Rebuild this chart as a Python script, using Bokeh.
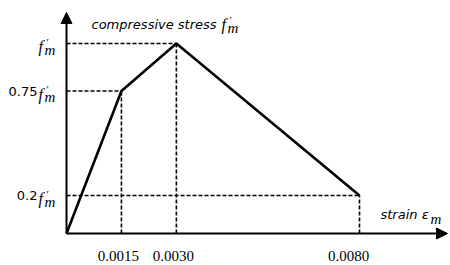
from bokeh.plotting import figure
from bokeh.models import Arrow, NormalHead, Range1d
from bokeh.core.properties import value
from bokeh.embed import file_html
from bokeh.resources import INLINE

# ---- data ----
strain = [0.0, 0.0015, 0.0030, 0.0080]          # strain eps_m
stress = [0.0, 0.75, 1.0, 0.2]                  # stress / f'm
strain_ticks = ["0.0015", "0.0030", "0.0080"]
strain_tick_vals = [0.0015, 0.0030, 0.0080]
stress_ticks = ["", "0.75", "0.2"]              # prefix for f'm labels
stress_tick_vals = [1.0, 0.75, 0.2]

# ---- layout helpers (canvas pixels -> data) ----
W, H = 450, 265
OX, OY = 66, 233          # canvas position of origin
SX, SY = 36625.0, 190.0   # px per data unit


def X(px):
    return (px - OX) / SX


def Y(py):
    return (OY - py) / SY


p = figure(width=W, height=H, output_backend="svg", toolbar_location=None,
           x_range=Range1d(X(0), X(W)), y_range=Range1d(Y(H), Y(0)),
           min_border=0, outline_line_color=None)
p.axis.visible = False
p.grid.visible = False
p.background_fill_color = "white"
p.border_fill_color = "white"

# dashed guide lines
n = len(strain)
p.segment(x0=[0.0] * (n - 1), y0=stress[1:], x1=strain[1:], y1=stress[1:],
          line_color="black", line_width=1.6, line_dash="4 2")
p.segment(x0=strain[1:], y0=[0.0] * (n - 1), x1=strain[1:], y1=stress[1:],
          line_color="black", line_width=1.6, line_dash="4 2")

# curve
p.line(strain, stress, line_color="black", line_width=2.6)

# axes with arrows
p.add_layout(Arrow(end=NormalHead(size=11, fill_color="black", line_color="black"),
                   x_start=0, y_start=0, x_end=X(447), y_end=0,
                   line_color="black", line_width=2))
p.add_layout(Arrow(end=NormalHead(size=11, fill_color="black", line_color="black"),
                   x_start=0, y_start=0, x_end=0, y_end=Y(12),
                   line_color="black", line_width=2))

SERIF = value("Liberation Serif")
SANS = value("DejaVu Sans")


def txt(x, y, s, font, size, style="normal", align="left", baseline="alphabetic", xo=0, yo=0):
    p.text(x=[x], y=[y], text=[s], text_font=font, text_font_size=f"{size}px",
           text_font_style=style, text_align=align, text_baseline=baseline,
           x_offset=xo, y_offset=yo, text_color="black")


def fm(x, y, xo, yo):
    """f'm: f's left edge at offset xo, baseline at yo"""
    txt(x, y, "f", SERIF, 16, "italic", "left", "alphabetic", xo, yo)
    txt(x, y, "\u2032", SERIF, 11, "normal", "left", "alphabetic", xo + 8, yo - 5)
    txt(x, y, "m", SERIF, 15, "italic", "left", "alphabetic", xo + 6, yo + 3)


# y labels
for v, pre in zip(stress_tick_vals, stress_ticks):
    fm(0, v, -28, 3)
    if pre:
        txt(0, v, pre, SANS, 13, "normal", "right", "middle", -29, 0)

# x labels
for v, s in zip(strain_tick_vals, strain_ticks):
    txt(v, 0, s, SERIF, 15, "normal", "center", "alphabetic", -3 if v < 0.005 else -11, 22)

# axis titles
txt(X(91), Y(24), "compressive stress", SANS, 13, "italic")
fm(X(221), Y(24), 0, 0)
txt(X(380), Y(214), "strain \u03b5", SANS, 13, "italic")
txt(X(430), Y(214), "m", SERIF, 15, "italic", "left", "alphabetic", 0, 4)

open("out.html", "w").write(file_html(p, INLINE))
